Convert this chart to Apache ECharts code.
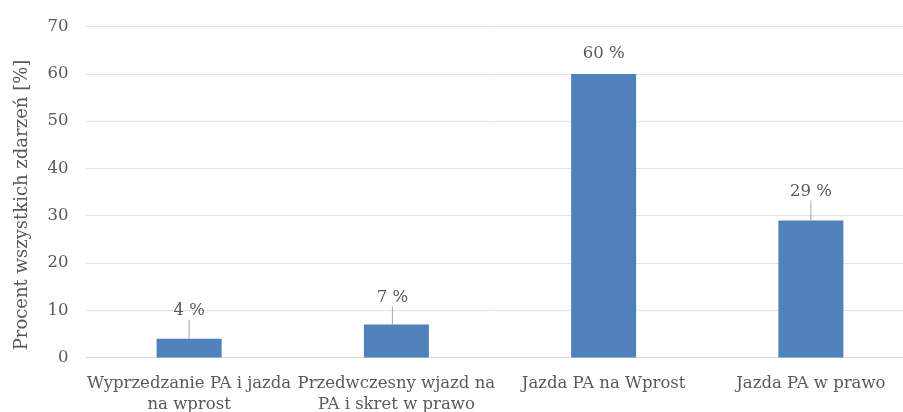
<!DOCTYPE html>
<html>
<head>
<meta charset="utf-8">
<script src="https://cdn.jsdelivr.net/npm/echarts@6/dist/echarts.min.js"></script>
<style>
  html, body { margin: 0; padding: 0; background: #fff; }
  #chart { width: 903px; height: 412px; }
</style>
</head>
<body>
<div id="chart"></div>
<script>
// Share of all recorded events by manoeuvre type
const categories = [
  'Wyprzedzanie PA i jazda\nna wprost',
  'Przedwczesny wjazd na\nPA i skret w prawo',
  'Jazda PA na Wprost',
  'Jazda PA w prawo'
];
const percentValues = [4, 7, 60, 29];
const yTicks = { min: 0, max: 70, interval: 10 };
const yAxisTitle = 'Procent wszystkich zdarzeń [%]';

const FONT = 'DejaVu Serif';
const TEXT = '#595959';

// per-bar lift of the value labels above the bar tops
const labelShift = [[0, -14], [-4, -13], [0, -7], [0, -15]];
// the tallest bar's label sits right on top, no leader line
const noLeader = [2];

const seriesData = percentValues.map((v, i) =>
  noLeader.includes(i) ? { value: v, labelLine: { show: false } } : v
);

const chart = echarts.init(document.getElementById('chart'), null, { renderer: 'canvas' });
chart.setOption({
  animation: false,
  backgroundColor: '#fff',
  grid: { left: 85.5, top: 26.6, width: 829, height: 331, outerBoundsMode: 'none', containLabel: false },
  xAxis: {
    type: 'category',
    data: categories,
    axisTick: { show: false },
    axisLine: { lineStyle: { color: '#d9d9d9', width: 1 } },
    axisLabel: {
      color: TEXT, fontFamily: FONT, fontSize: 16.5, lineHeight: 21,
      margin: 16, interval: 0
    }
  },
  yAxis: {
    type: 'value',
    min: yTicks.min, max: yTicks.max, interval: yTicks.interval,
    axisLine: { show: false },
    axisTick: { show: false },
    splitLine: { lineStyle: { color: '#e3e3e3', width: 1 } },
    axisLabel: { color: TEXT, fontFamily: FONT, fontSize: 16.5, margin: 17 }
  },
  series: [{
    type: 'bar',
    data: seriesData,
    barWidth: 65,
    itemStyle: { color: '#4f81bd' },
    label: {
      show: true, position: 'top', distance: 5,
      color: TEXT, fontFamily: FONT, fontSize: 16.5,
      formatter: p => p.value + ' %'
    },
    labelLayout: p => ({ dx: labelShift[p.dataIndex][0], dy: labelShift[p.dataIndex][1] }),
    labelLine: { show: true, lineStyle: { color: '#a6a6a6', width: 1 } }
  }],
  graphic: [{
    type: 'text',
    x: 22, y: 205,
    rotation: Math.PI / 2,
    style: {
      text: yAxisTitle, fill: TEXT, font: '18px "' + FONT + '"',
      align: 'center', verticalAlign: 'middle'
    }
  }]
});
</script>
</body>
</html>
